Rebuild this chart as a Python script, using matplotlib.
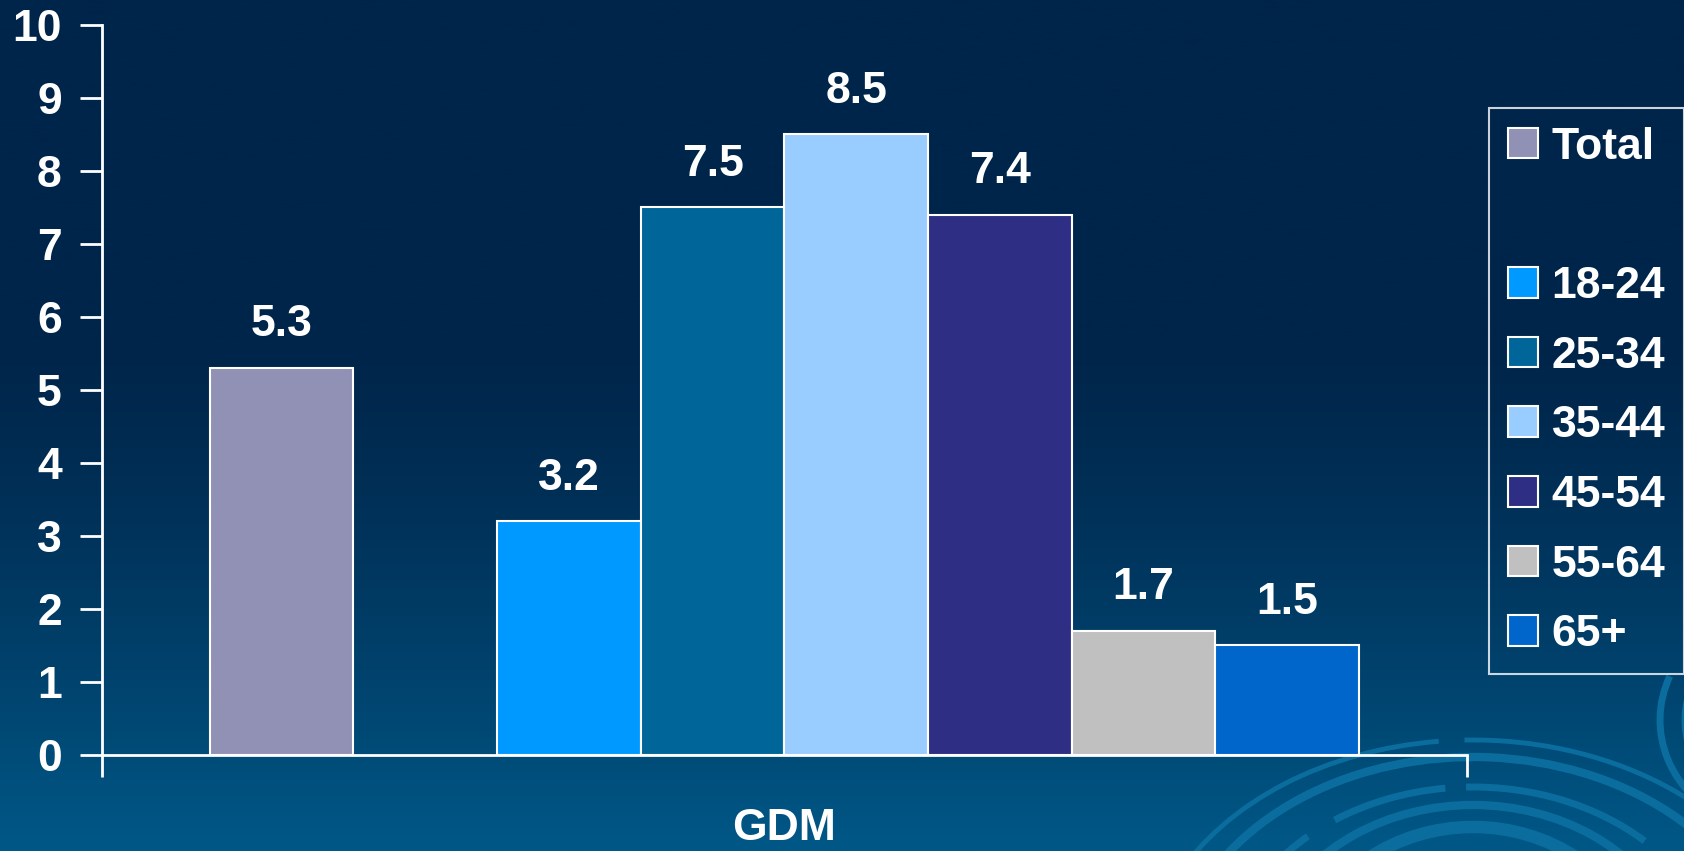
import numpy as np
import matplotlib
matplotlib.use("Agg")
import matplotlib.pyplot as plt
from matplotlib.patches import Arc, Patch

plt.rcParams['font.family'] = ['Liberation Sans', 'DejaVu Sans']
plt.rcParams['font.weight'] = 'bold'

category = "GDM"
series = ["Total", "", "18-24", "25-34", "35-44", "45-54", "55-64", "65+"]
values = [5.3, None, 3.2, 7.5, 8.5, 7.4, 1.7, 1.5]
colors = ["#9191B5", "none", "#0099FF", "#006699", "#99CCFF", "#2E2E85", "#C0C0C0", "#0066CC"]

W, H = 1684, 851
fig = plt.figure(figsize=(W / 100, H / 100), dpi=100)

# background gradient (pixel coordinates)
bg = fig.add_axes([0, 0, 1, 1], zorder=-10)
t = np.linspace(0, 1, 400)
top = np.array([0, 37, 74]) / 255
bot = np.array([0, 88, 135]) / 255
k = np.clip((t - 0.4) / 0.6, 0, 1) ** 1.3
grad = top[None, :] * (1 - k[:, None]) + bot[None, :] * k[:, None]
bg.imshow(grad[:, None, :], aspect='auto', extent=[0, W, H, 0])
bg.set_xlim(0, W)
bg.set_ylim(H, 0)

# decorative swirl arcs
arc_col = "#0b6d9e"
cx, cy = 1473, 985
for rx, ry, lw, segs in [
    (330, 245, 3.5, [(200, 262), (268, 345)]),
    (300, 228, 6, [(195, 350)]),
    (250, 198, 5, [(200, 222), (230, 262), (268, 320), (326, 345)]),
    (215, 180, 6, [(200, 340)]),
    (175, 158, 9, [(195, 345)]),
    (120, 118, 14, [(190, 350)]),
]:
    for a, b in segs:
        bg.add_patch(Arc((cx, cy), 2 * rx, 2 * ry, theta1=a, theta2=b, color=arc_col, lw=lw))
bg.add_patch(Arc((1790, 720), 260, 230, theta1=120, theta2=200, color=arc_col, lw=5))
bg.add_patch(Arc((1790, 720), 210, 190, theta1=125, theta2=200, color=arc_col, lw=5))
bg.add_patch(Arc((790, 990), 380, 340, theta1=60, theta2=120, color="#0a6596", lw=5))
bg.axis('off')

ax = fig.add_axes([0.0606, 0.1128, 0.871 - 0.0606, 0.971 - 0.1128])
ax.set_facecolor('none')

handles = []
for i, (name, v, c) in enumerate(zip(series, values, colors)):
    if v is None:
        handles.append(Patch(facecolor='none', edgecolor='none', label=" "))
        continue
    ax.bar(i, v, width=1.0, color=c, edgecolor='white', linewidth=1.5)
    ax.text(i, v + 0.31, f"{v:.1f}", ha='center', va='bottom', color='white',
            fontsize=32, fontweight='bold')
    handles.append(Patch(facecolor=c, edgecolor='white', linewidth=1.5, label=name))

ax.set_xlim(-1.25, 8.25)
ax.set_ylim(0, 10)
ax.set_yticks(range(0, 11))
ax.tick_params(axis='y', colors='white', labelsize=32, length=16, width=2, pad=13, direction='out')
ax.set_xticks([-1.25, 8.25])
ax.set_xticklabels([])
ax.tick_params(axis='x', which='major', colors='white', length=16, width=2, direction='out')
ax.set_xticks([3.5], minor=True)
ax.set_xticklabels([category], minor=True)
ax.tick_params(axis='x', which='minor', colors='white', labelsize=32, length=0, pad=38)
for lbl in ax.get_yticklabels() + ax.get_xticklabels(minor=True):
    lbl.set_fontweight('bold')

for s in ['top', 'right']:
    ax.spines[s].set_visible(False)
for s in ['left', 'bottom']:
    ax.spines[s].set_color('white')
    ax.spines[s].set_linewidth(2)

leg = fig.legend(handles=handles, loc='upper left', bbox_to_anchor=(1489 / W, 1 - 108 / H),
                 borderaxespad=0, frameon=True, fontsize=32, handlelength=0.68,
                 handleheight=0.68, handletextpad=0.31, labelspacing=0.645,
                 borderpad=0.42, fancybox=False)
leg.get_frame().set_facecolor('none')
leg.get_frame().set_edgecolor('white')
leg.get_frame().set_linewidth(1.5)
for txt in leg.get_texts():
    txt.set_color('white')
    txt.set_fontweight('bold')

fig.savefig("out.png", dpi=100)
